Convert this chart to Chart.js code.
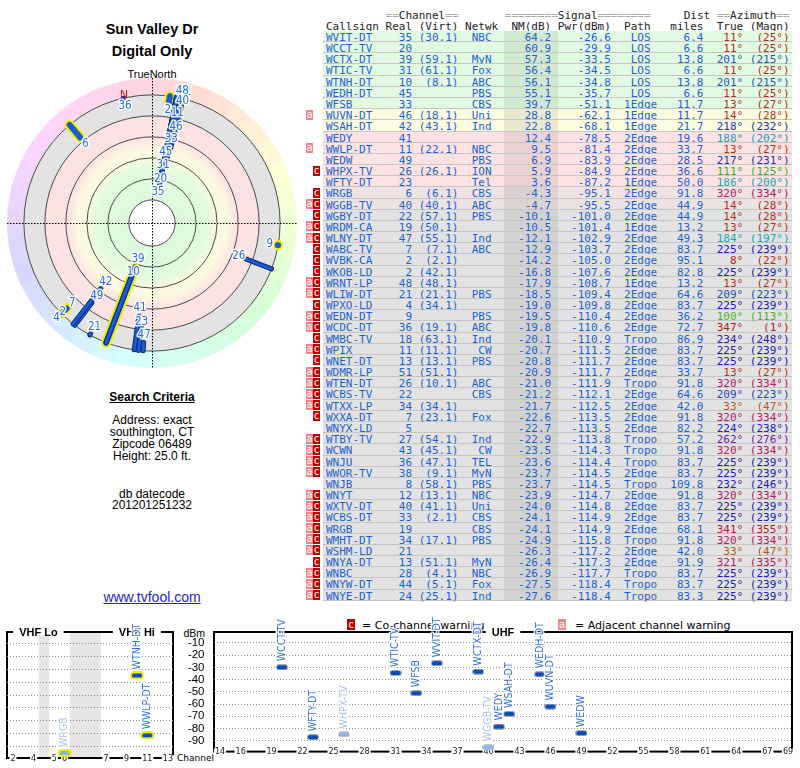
<!DOCTYPE html>
<html>
<head>
<meta charset="utf-8">
<script src="https://cdn.jsdelivr.net/npm/chart.js@4.4.0/dist/chart.umd.min.js"></script>
<style>
  body { margin: 0; width: 800px; height: 768px; position: relative; overflow: hidden; background: #fff;
         font-family: 'Liberation Sans', Arial, sans-serif; color: #000; }
  .t { position: absolute; white-space: nowrap; line-height: 1; }
  .mid { left: 0; width: 304px; text-align: center; }
  #tbl { position: absolute; left: 323px; top: 8.64px; font-family: 'DejaVu Sans Mono', monospace; font-size: 11px; }
  .ln { position: relative; width: 469px; height: 11.18px; line-height: 11.18px; white-space: pre; box-sizing: border-box; }
  .ln span.tx { position: relative; left: 3px; top: 1px; }
  .row { border-bottom: 1px solid #c6c6c6; color: #1e62d2; }
  .nmband { position: absolute; left: 181px; top: 0; width: 54px; height: 100%; background: rgba(0,0,0,0.07); }
  .wa, .wc { position: absolute; top: 0.5px; width: 7px; height: 10px; line-height: 10px; text-align: center;
             color: #fff; font-size: 10px; font-family: 'DejaVu Sans Mono', monospace; }
  .wa { left: -17px; background: #f08585; }
  .wc { left: -10px; background: #c00000; }
  canvas { position: absolute; }
</style>
</head>
<body>

<div class="t mid" style="top:21.7px;font-size:14.5px;font-weight:bold">Sun Valley Dr</div>
<div class="t mid" style="top:43.7px;font-size:14.5px;font-weight:bold">Digital Only</div>
<div class="t mid" style="top:68.7px;font-size:11px">TrueNorth</div>

<div class="t mid" style="top:390.8px;font-size:12px;font-weight:bold;text-decoration:underline">Search Criteria</div>
<div class="t mid" style="top:413.8px;font-size:12px">Address: exact</div>
<div class="t mid" style="top:425.8px;font-size:12px">southington, CT</div>
<div class="t mid" style="top:437.8px;font-size:12px">Zipcode 06489</div>
<div class="t mid" style="top:449.8px;font-size:12px">Height: 25.0 ft.</div>
<div class="t mid" style="top:487.5px;font-size:12px">db datecode</div>
<div class="t mid" style="top:499px;font-size:12px">201201251232</div>
<div class="t mid" style="top:589.8px;font-size:14px;color:#2424d8;text-decoration:underline">www.tvfool.com</div>

<div id="tbl"></div>

<div class="t" style="left:347px;top:619px;width:8px;height:11px;background:#c00000;color:#fff;font:10px/11px 'DejaVu Sans Mono',monospace;text-align:center">c</div>
<div class="t" style="left:362px;top:619.7px;font-size:11px;font-family:'DejaVu Sans',sans-serif">= Co-channel warning</div>
<div class="t" style="left:558px;top:619px;width:8px;height:11px;background:#f08585;color:#fff;font:10px/11px 'DejaVu Sans Mono',monospace;text-align:center">a</div>
<div class="t" style="left:575px;top:619.7px;font-size:11px;font-family:'DejaVu Sans',sans-serif">= Adjacent channel warning</div>

<div class="t" style="right:595px;top:628px;font-size:10.5px">dBm</div>
<div class="t" style="left:177px;top:753.6px;font-size:9px;font-family:'DejaVu Sans',sans-serif">Channel</div>

<canvas id="polar" width="300" height="300" style="left:2px;top:73px"></canvas>
<canvas id="vhf" width="180" height="162" style="left:0;top:606px"></canvas>
<canvas id="uhf" width="622" height="162" style="left:178px;top:606px"></canvas>

<script>
const callsigns = ['WVIT-DT','WCCT-TV','WCTX-DT','WTIC-TV','WTNH-DT','WEDH-DT','WFSB','WUVN-DT','WSAH-DT','WEDY',
  'WWLP-DT','WEDW','WHPX-TV','WFTY-DT','WRGB','WGGB-TV','WGBY-DT','WRDM-CA','WLNY-DT','WABC-TV',
  'WVBK-CA','WKOB-LD','WRNT-LP','WLIW-DT','WPXO-LD','WEDN-DT','WCDC-DT','WMBC-TV','WPIX','WNET-DT',
  'WDMR-LP','WTEN-DT','WCBS-TV','WTXX-LP','WXXA-DT','WNYX-LD','WTBY-TV','WCWN','WNJU','WWOR-TV',
  'WNJB','WNYT','WXTV-DT','WCBS-DT','WRGB','WMHT-DT','WSHM-LD','WNYA-DT','WNBC','WNYW-DT','WNYE-DT'];
const realCh = [35,20,39,31,10,45,33,46,42,41, 11,49,26,23,6,40,22,19,47,7, 2,2,48,21,4,9,36,18,11,13,
  51,26,22,34,7,5,27,43,36,38, 8,12,40,33,19,34,21,13,28,44,24];
const virtCh = ['30.1','','59.1','61.1','8.1','','','18.1','43.1','', '22.1','','26.1','','6.1','40.1','57.1','50.1','55.1','7.1',
  '2.1','42.1','48.1','21.1','34.1','','19.1','63.1','11.1','13.1', '51.1','10.1','','34.1','23.1','','54.1','45.1','47.1','9.1',
  '58.1','13.1','41.1','2.1','','17.1','','51.1','4.1','5.1','25.1'];
const networks = ['NBC','','MyN','Fox','ABC','PBS','CBS','Uni','Ind','', 'NBC','PBS','ION','Tel','CBS','ABC','PBS','','Ind','ABC',
  '','','','PBS','','PBS','ABC','Ind','CW','PBS', '','ABC','CBS','','Fox','','Ind','CW','TEL','MyN',
  'PBS','NBC','Uni','CBS','CBS','PBS','','MyN','NBC','Fox','Ind'];
const nmDb = [64.2,60.9,57.3,56.4,56.1,55.1,39.7,28.8,22.8,12.4, 9.5,6.9,5.9,3.6,-4.3,-4.7,-10.1,-10.5,-12.1,-12.9,
  -14.2,-16.8,-17.9,-18.5,-19.0,-19.5,-19.8,-20.1,-20.7,-20.8, -20.9,-21.0,-21.2,-21.7,-22.6,-22.7,-22.9,-23.5,-23.6,-23.7,
  -23.7,-23.9,-24.0,-24.1,-24.1,-24.9,-26.3,-26.4,-26.9,-27.5,-27.6];
const pwrDbm = [-26.6,-29.9,-33.5,-34.5,-34.8,-35.7,-51.1,-62.1,-68.1,-78.5, -81.4,-83.9,-84.9,-87.2,-95.1,-95.5,-101.0,-101.4,-102.9,-103.7,
  -105.0,-107.6,-108.7,-109.4,-109.8,-110.4,-110.6,-110.9,-111.5,-111.7, -111.7,-111.9,-112.1,-112.5,-113.5,-113.5,-113.8,-114.3,-114.4,-114.5,
  -114.5,-114.7,-114.8,-114.9,-114.9,-115.8,-117.2,-117.3,-117.7,-118.4,-118.4];
const paths = ['LOS','LOS','LOS','LOS','LOS','LOS','1Edge','1Edge','1Edge','2Edge', '2Edge','2Edge','2Edge','1Edge','2Edge','2Edge','2Edge','1Edge','2Edge','2Edge',
  '2Edge','2Edge','1Edge','2Edge','2Edge','2Edge','2Edge','Tropo','2Edge','2Edge', '2Edge','Tropo','2Edge','2Edge','2Edge','2Edge','Tropo','Tropo','Tropo','2Edge',
  'Tropo','2Edge','2Edge','2Edge','2Edge','Tropo','2Edge','2Edge','Tropo','Tropo','Tropo'];
const distMiles = [6.4,6.6,13.8,6.6,13.8,6.6,11.7,11.7,21.7,19.6, 33.7,28.5,36.6,50.0,91.8,44.9,44.9,13.2,49.3,83.7,
  95.1,82.8,13.2,64.6,83.7,36.2,72.7,86.9,83.7,83.7, 33.7,91.8,64.6,42.0,91.8,82.2,57.2,91.8,83.7,83.7,
  109.8,91.8,83.7,83.7,68.1,91.8,42.0,91.9,83.7,83.7,83.3];
const azTrue = [11,11,201,11,201,11,13,14,218,188, 13,217,111,186,320,14,14,13,184,225, 8,225,13,209,225,100,347,234,225,225,
  13,320,209,33,320,224,262,320,225,225, 232,320,225,225,341,320,33,321,225,225,225];
const azMagn = [25,25,215,25,215,25,27,28,232,202, 27,231,125,200,334,28,28,27,197,239, 22,239,27,223,239,113,1,248,239,239,
  27,334,223,47,334,238,276,334,239,239, 246,334,239,239,355,334,47,335,239,239,239];
const warnings = ['','','','','','','','a','','', 'a','','c','','c','ac','c','ac','ac','c', 'c','c','ac','ac','c','ac','ac','c','ac','c',
  'ac','ac','ac','ac','c','','ac','ac','ac','ac', '','ac','ac','ac','ac','ac','ac','c','ac','ac','ac'];

const vhfTickChannels = [2, 4, 5, 6, 7, 9, 11, 13];
const uhfTickChannels = [14, 16, 19, 22, 25, 28, 31, 34, 37, 40, 43, 46, 49, 52, 55, 58, 61, 64, 67, 69];
const vhfGaps = [[4, 5], [6, 7]];
const dbmTicks = [-10, -20, -30, -40, -50, -60, -70, -80, -90];
const nmRings = [80, 60, 40, 20, 0, -20];

// ---------- table ----------
function rowColor(nm) {
  if (nm >= 35) return '#e1fae1';
  if (nm >= 15) return '#fbfbe0';
  if (nm >= 0) return '#fce2e2';
  const t = Math.min(1, -nm / 8);
  const m = (a, b) => Math.round(a + (b - a) * t);
  return `rgb(${m(252, 226)},${m(226, 226)},${m(226, 226)})`;
}
function azColor(az) {
  const h = az <= 60 ? az * 0.75 : az < 190 ? az : az + 12;
  return `hsl(${h % 360},75%,40%)`;
}
const center5 = s => s.length === 5 ? s : (' ' + s).padEnd(5);

const tbl = document.getElementById('tbl');
function headLine(s) {
  const d = document.createElement('div');
  d.className = 'ln';
  d.innerHTML = '<span class="tx" style="color:#222">' +
    s.replace(/(=+)/g, '<span style="color:#aaa">$1</span>') + '</span>';
  tbl.appendChild(d);
}
headLine('         ==Channel==       ========Signal========     Dist ==Azimuth==');
headLine('Callsign Real (Virt) Netwk  NM(dB) Pwr(dBm)  Path   miles  True (Magn)');

callsigns.forEach((cs, i) => {
  const d = document.createElement('div');
  d.className = 'ln row';
  d.style.background = rowColor(nmDb[i]);
  const band = document.createElement('div');
  band.className = 'nmband';
  d.appendChild(band);
  const main = cs.padEnd(11) + String(realCh[i]).padStart(2) + ' ' +
    (virtCh[i] ? '(' + virtCh[i] + ')' : '').padStart(6) + '  ' +
    networks[i].padStart(3) + nmDb[i].toFixed(1).padStart(9) + pwrDbm[i].toFixed(1).padStart(9) +
    '  ' + center5(paths[i]) + distMiles[i].toFixed(1).padStart(7);
  const az = (azTrue[i] + '°').padStart(6) + ('(' + azMagn[i] + '°)').padStart(7);
  const sp = document.createElement('span');
  sp.className = 'tx';
  sp.textContent = main;
  const sa = document.createElement('span');
  sa.style.color = azColor(azTrue[i]);
  sa.textContent = az;
  sp.appendChild(sa);
  d.appendChild(sp);
  if (warnings[i].includes('a')) {
    const w = document.createElement('div'); w.className = 'wa'; w.textContent = 'a'; d.appendChild(w);
  }
  if (warnings[i].includes('c')) {
    const w = document.createElement('div'); w.className = 'wc'; w.textContent = 'c'; d.appendChild(w);
  }
  tbl.appendChild(d);
});

// ---------- polar plot ----------
Chart.defaults.animation = false;
Chart.defaults.font.family = "'Liberation Sans', Arial, sans-serif";

const radial = nm => 102 - Math.max(nm, -20);          // radial axis value, dB below 102
const polarXY = (az, u) => ({ x: u * Math.sin(az * Math.PI / 180), y: u * Math.cos(az * Math.PI / 180) });
const polarRows = callsigns.map((c, i) => i).filter(i => nmDb[i] > -20);
const isVhf = i => realCh[i] <= 13;

const polarSets = [];
polarRows.forEach(i => {
  const pts = [polarXY(azTrue[i], radial(nmDb[i])), polarXY(azTrue[i], radial(-20))];
  const w = isVhf(i) ? 6 : 3;
  const base = { data: pts, showLine: true, pointRadius: 0, borderCapStyle: 'round', tension: 0, clip: false };
  polarSets.push({ ...base, borderColor: '#1b5cd6', borderWidth: w });
  polarSets.push({ ...base, borderColor: isVhf(i) ? '#f4ee00' : '#0c2c78', borderWidth: w + (isVhf(i) ? 4 : 2) });
});

const polarBackdrop = {
  id: 'polarBackdrop',
  beforeDraw(chart) {
    const { ctx, scales: { x, y } } = chart;
    const cx = x.getPixelForValue(0), cy = y.getPixelForValue(0);
    const k = x.getPixelForValue(1) - cx;
    const rOut = radial(-20) * k, rIn = radial(80) * k, rHue = 145;
    const rad = d => d * Math.PI / 180;
    ctx.save();
    for (let az = 0; az < 360; az += 10) {
      ctx.beginPath();
      ctx.arc(cx, cy, rHue, rad(az - 95.4), rad(az - 84.6));
      ctx.arc(cx, cy, rOut, rad(az - 84.6), rad(az - 95.4), true);
      ctx.closePath();
      ctx.fillStyle = `hsl(${(az + 350) % 360},100%,92%)`;
      ctx.fill();
    }
    const g = ctx.createRadialGradient(cx, cy, rIn, cx, cy, rOut);
    const at = r => Math.max(0, Math.min(1, (r - rIn) / (rOut - rIn)));
    g.addColorStop(0, '#ddfadd');
    g.addColorStop(at(55), '#e2fadd');
    g.addColorStop(at(65), '#f8fadf');
    g.addColorStop(at(74), '#fcf9e0');
    g.addColorStop(at(85), '#fce3e3');
    g.addColorStop(at(106.5), '#fce2e2');
    g.addColorStop(at(107.5), '#e3e3e3');
    g.addColorStop(1, '#e3e3e3');
    ctx.beginPath(); ctx.arc(cx, cy, rOut, 0, Math.PI * 2); ctx.fillStyle = g; ctx.fill();
    ctx.beginPath(); ctx.arc(cx, cy, rIn, 0, Math.PI * 2); ctx.fillStyle = '#fff'; ctx.fill();
    ctx.strokeStyle = '#4a4a4a'; ctx.lineWidth = 1;
    nmRings.forEach(nm => { ctx.beginPath(); ctx.arc(cx, cy, radial(nm) * k, 0, Math.PI * 2); ctx.stroke(); });
    ctx.setLineDash([1.5, 1.5]); ctx.strokeStyle = '#000';
    ctx.beginPath();
    ctx.moveTo(cx - rHue, cy + 0.5); ctx.lineTo(cx + rHue, cy + 0.5);
    ctx.moveTo(cx + 0.5, cy - rHue); ctx.lineTo(cx + 0.5, cy + rHue);
    ctx.stroke();
    ctx.restore();
  }
};

const polarLabels = {
  id: 'polarLabels',
  afterDatasetsDraw(chart) {
    const { ctx, scales: { x, y } } = chart;
    const cx = x.getPixelForValue(0), cy = y.getPixelForValue(0);
    const k = x.getPixelForValue(1) - cx;
    const placed = [];
    ctx.save();
    ctx.font = "11.5px 'Liberation Sans Narrow', 'DejaVu Sans Condensed', sans-serif";
    ctx.textAlign = 'center'; ctx.textBaseline = 'middle';
    ctx.lineJoin = 'round';
    const items = [];
    polarRows.forEach(i => {
      const a = azTrue[i] * Math.PI / 180;
      let r = radial(nmDb[i]) * k - 8, px, py;
      for (let n = 0; n < 30; n++) {
        px = cx + r * Math.sin(a); py = cy - r * Math.cos(a);
        const hit = placed.find(p => Math.hypot(p.x - px, p.y - py) < 9.8);
        if (!hit) break;
        r = hit.r + 13.5;
      }
      r = Math.min(r, 135);
      px = cx + r * Math.sin(a); py = cy - r * Math.cos(a);
      placed.push({ x: px, y: py, r });
      items.push({ text: String(realCh[i]), px, py, r });
    });
    // labels pushed out to the rim go underneath the others
    items.sort((p, q) => q.r - p.r).forEach(it => {
      ctx.lineWidth = 3; ctx.strokeStyle = 'rgba(255,255,255,0.9)';
      ctx.strokeText(it.text, it.px, it.py);
      ctx.fillStyle = '#2c6fd8';
      ctx.fillText(it.text, it.px, it.py);
    });
    // magnetic north marker
    const decl = (azTrue[0] - azMagn[0]) * Math.PI / 180;
    ctx.font = "11px 'Liberation Sans', Arial, sans-serif";
    ctx.textAlign = 'left';
    ctx.fillStyle = '#e00000';
    ctx.fillText('N', cx + 132 * Math.sin(decl), cy - 132 * Math.cos(decl));
    ctx.restore();
  }
};

const R = 150 / 1.05;
new Chart(document.getElementById('polar'), {
  type: 'scatter',
  data: { datasets: polarSets },
  options: {
    responsive: false,
    events: [],
    layout: { padding: 0 },
    plugins: { legend: { display: false }, tooltip: { enabled: false } },
    scales: {
      x: { type: 'linear', display: false, min: -R, max: R },
      y: { type: 'linear', display: false, min: -R, max: R }
    }
  },
  plugins: [polarBackdrop, polarLabels]
});

// ---------- channel / power charts ----------
const vhfSlot = ch => (ch - 2) + (ch >= 5 ? 1 : 0) + (ch >= 7 ? 3 : 0);
const Y_MIN = -99, Y_MAX = -1;
const bandRows = callsigns.map((c, i) => i).filter(i => pwrDbm[i] > Y_MIN);
const faded = i => warnings[i].includes('c');

function pill(fill, edge, ew) {
  const c = document.createElement('canvas');
  c.width = 10 + 2 * ew; c.height = 4 + 2 * ew;
  const g = c.getContext('2d');
  g.fillStyle = edge; g.beginPath(); g.roundRect(0, 0, c.width, c.height, c.height / 2); g.fill();
  g.fillStyle = fill; g.beginPath(); g.roundRect(ew, ew, 10, 4, 1.5); g.fill();
  return c;
}
const markFor = i => pill(faded(i) ? '#8fb2e6' : '#0a4fb8', isVhf(i) ? '#f2ec00' : (faded(i) ? '#c8c8c8' : '#a8a8a8'), isVhf(i) ? 2 : 1);

const bandFrame = {
  id: 'bandFrame',
  beforeDraw(chart, args, opts) {
    const { ctx, chartArea: a, scales: { x } } = chart;
    ctx.save();
    ctx.fillStyle = '#e6e6e6';
    (opts.gaps || []).forEach(([lo, hi]) => {
      const x0 = x.getPixelForValue(lo), x1 = x.getPixelForValue(hi);
      ctx.fillRect(x0, a.top, x1 - x0, a.bottom - a.top);
    });
    ctx.lineWidth = 2; ctx.strokeStyle = '#000';
    ctx.strokeRect(a.left, a.top, a.right - a.left, a.bottom - a.top);
    ctx.font = "bold 11px 'Liberation Sans', Arial, sans-serif";
    ctx.textAlign = 'center'; ctx.textBaseline = 'middle';
    opts.titles.forEach(t => {
      const lo = t.from == null ? a.left : x.getPixelForValue(t.from);
      const hi = t.to == null ? a.right : x.getPixelForValue(t.to);
      const c = (lo + hi) / 2;
      const w = ctx.measureText(t.text).width + 12;
      ctx.fillStyle = '#fff'; ctx.fillRect(c - w / 2, a.top - 3, w, 6);
      ctx.fillStyle = '#000'; ctx.fillText(t.text, c, a.top + 0.5);
    });
    ctx.restore();
  },
  // channel numbers sit on the bottom axis line
  beforeDatasetsDraw(chart, args, opts) {
    const { ctx, chartArea: a, scales: { x } } = chart;
    ctx.save();
    ctx.font = "8px 'DejaVu Sans', sans-serif";
    ctx.textAlign = 'center'; ctx.textBaseline = 'middle';
    x.ticks.forEach((t, k) => {
      const px = x.getPixelForValue(t.value);
      const txt = String(opts.labels[k]);
      const w = ctx.measureText(txt).width + 2;
      ctx.fillStyle = '#fff'; ctx.fillRect(px - w / 2, a.bottom - 3, w, 6);
      ctx.fillStyle = '#222'; ctx.fillText(txt, px, a.bottom + 0.5);
    });
    ctx.restore();
  }
};

const bandLabels = {
  id: 'bandLabels',
  afterDatasetsDraw(chart, args, opts) {
    const { ctx } = chart;
    const meta = chart.getDatasetMeta(0);
    ctx.save();
    ctx.font = "10.5px 'Liberation Sans Narrow', 'DejaVu Sans Condensed', sans-serif";
    ctx.textAlign = 'left'; ctx.textBaseline = 'middle'; ctx.lineJoin = 'round';
    meta.data.forEach((pt, j) => {
      const i = opts.rows[j];
      ctx.save();
      ctx.translate(pt.x, pt.y - 6);
      ctx.rotate(-Math.PI / 2);
      ctx.lineWidth = 3; ctx.strokeStyle = 'rgba(255,255,255,0.85)';
      ctx.strokeText(callsigns[i], 0, 0);
      ctx.fillStyle = faded(i) ? '#a9c2ea' : '#2f72d6';
      ctx.fillText(callsigns[i], 0, 0);
      ctx.restore();
    });
    ctx.restore();
  }
};

function bandChart(id, rows, xOf, xMin, xMax, tickChannels, yWidth, pad, showY, titles, gaps) {
  return new Chart(document.getElementById(id), {
    type: 'scatter',
    data: {
      datasets: [{
        data: rows.map(i => ({ x: xOf(realCh[i]), y: pwrDbm[i] })),
        pointStyle: rows.map(markFor),
        pointRadius: 6,
        showLine: false
      }]
    },
    options: {
      responsive: false,
      events: [],
      layout: { padding: pad },
      plugins: {
        legend: { display: false }, tooltip: { enabled: false },
        bandFrame: { titles, gaps, labels: tickChannels },
        bandLabels: { rows }
      },
      scales: {
        x: {
          type: 'linear', min: xMin, max: xMax,
          afterBuildTicks: s => { s.ticks = tickChannels.map(ch => ({ value: xOf(ch) })); },
          afterFit: s => { s.height = 10; },
          grid: { display: false, drawTicks: false },
          border: { display: false },
          ticks: { display: false }
        },
        y: {
          type: 'linear', min: Y_MIN, max: Y_MAX,
          afterBuildTicks: s => { s.ticks = dbmTicks.map(v => ({ value: v })); },
          afterFit: s => { s.width = yWidth; },
          grid: { color: '#8a8a8a', lineWidth: 1, drawTicks: false },
          border: { display: false, dash: [1, 2] },
          ticks: { display: showY, autoSkip: false, padding: 9.5, color: '#000', font: { size: 11.5 } }
        }
      }
    },
    plugins: [bandFrame, bandLabels]
  });
}

const vhfRows = bandRows.filter(isVhf);
const uhfRows = bandRows.filter(i => !isVhf(i));

bandChart('vhf', vhfRows, vhfSlot, -0.58, 15.49, vhfTickChannels, 0,
  { left: 7, right: 7, top: 26, bottom: 0 }, false,
  [{ text: 'VHF Lo', from: null, to: vhfSlot(6) + 0.5 }, { text: 'VHF Hi', from: vhfSlot(7) - 0.5, to: null }],
  vhfGaps.map(([a, b]) => [vhfSlot(a) + 0.5, vhfSlot(b) - 0.5]));

bandChart('uhf', uhfRows, ch => ch, 13.42, 69.39, uhfTickChannels, 36,
  { left: 0, right: 8, top: 26, bottom: 0 }, true,
  [{ text: 'UHF', from: null, to: null }], []);
</script>
</body>
</html>
